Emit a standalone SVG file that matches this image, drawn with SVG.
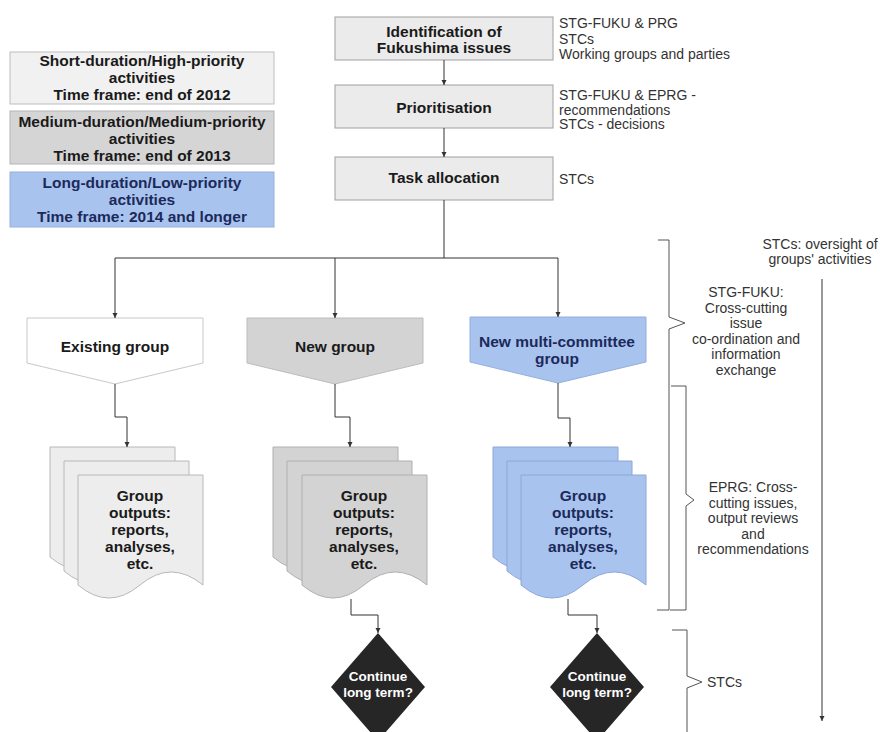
<svg xmlns="http://www.w3.org/2000/svg" width="880" height="732" viewBox="0 0 880 732">
<defs>
<marker id="ah" markerWidth="6" markerHeight="6" refX="5" refY="3" orient="auto" markerUnits="userSpaceOnUse">
<path d="M0,0.5 L5,3 L0,5.5 Z" fill="#333"/>
</marker>
<path id="doc" d="M0,0 H125 V110 Q93,84 62,110 Q31,136 0,110 Z"/>
<path id="pent" d="M-88,0 H88 V45 L0,66 L-88,45 Z"/>
<path id="dia" d="M0,0 L47,54 L0,108 L-47,54 Z"/>
</defs>
<style>
text{font-family:"Liberation Sans",Arial,sans-serif;}
.b{font-weight:bold;font-size:15.5px;fill:#1a1a1a;text-anchor:middle;}
.nv{fill:#1c2a5a;}
.s{font-size:14px;fill:#333;}
.c{text-anchor:middle;}
.w{font-weight:bold;font-size:13.5px;fill:#fff;text-anchor:middle;}
.box{fill:#ebebeb;stroke:#a0a0a0;stroke-width:1;}
.ln{fill:none;stroke:#333;stroke-width:1;}
.br{fill:none;stroke:#555;stroke-width:1;}
.dw{fill:#ededed;stroke:#b8b8b8;}
.dg{fill:#d3d3d3;stroke:#b0b0b0;}
.db{fill:#a9c3ef;stroke:#8ea8d8;}
</style>
<rect width="880" height="732" fill="#ffffff"/>

<g id="legend-short">
<rect x="10" y="52" width="264" height="52" fill="#f1f1f1" stroke="#bdbdbd"/>
<text class="b" x="142" y="66">Short-duration/High-priority</text>
<text class="b" x="142" y="83">activities</text>
<text class="b" x="142" y="100">Time frame: end of 2012</text>
</g>
<g id="legend-medium">
<rect x="10" y="111" width="264" height="53" fill="#d5d5d5" stroke="#b5b5b5"/>
<text class="b" x="142" y="127">Medium-duration/Medium-priority</text>
<text class="b" x="142" y="144">activities</text>
<text class="b" x="142" y="161">Time frame: end of 2013</text>
</g>
<g id="legend-long">
<rect x="10" y="172" width="264" height="55" fill="#a9c3ef" stroke="#96b0dc"/>
<text class="b nv" x="142" y="188">Long-duration/Low-priority</text>
<text class="b nv" x="142" y="205">activities</text>
<text class="b nv" x="142" y="222">Time frame: 2014 and longer</text>
</g>

<g id="identification">
<rect class="box" x="335" y="17" width="218" height="43"/>
<text class="b" x="444" y="37">Identification of</text>
<text class="b" x="444" y="53">Fukushima issues</text>
<text class="s" x="559" y="28">STG-FUKU &amp; PRG</text>
<text class="s" x="559" y="43.5">STCs</text>
<text class="s" x="559" y="59">Working groups and parties</text>
</g>
<g id="prioritisation">
<rect class="box" x="335" y="85" width="218" height="43"/>
<text class="b" x="444" y="113">Prioritisation</text>
<text class="s" x="559" y="100">STG-FUKU &amp; EPRG -</text>
<text class="s" x="559" y="114.5">recommendations</text>
<text class="s" x="559" y="129">STCs - decisions</text>
</g>
<g id="task-allocation">
<rect class="box" x="335" y="157" width="218" height="43"/>
<text class="b" x="444" y="183">Task allocation</text>
<text class="s" x="559" y="184">STCs</text>
</g>

<g id="existing-group">
<use href="#pent" x="115" y="318" fill="#ffffff" stroke="#c8c8c8"/>
<text class="b" x="115" y="352">Existing group</text>
</g>
<g id="new-group">
<use href="#pent" x="335" y="318" fill="#d3d3d3" stroke="#bcbcbc"/>
<text class="b" x="335" y="352">New group</text>
</g>
<g id="new-multi-committee-group">
<use href="#pent" x="558" y="317" fill="#a9c3ef" stroke="#93aede"/>
<text class="b nv" x="557" y="347">New multi-committee</text>
<text class="b nv" x="557" y="364">group</text>
</g>

<g id="outputs-existing">
<use href="#doc" x="50" y="447" class="dw"/>
<use href="#doc" x="64" y="461" class="dw"/>
<use href="#doc" x="78" y="475" class="dw"/>
<text class="b" x="140" y="501">Group</text>
<text class="b" x="140" y="518">outputs:</text>
<text class="b" x="140" y="535">reports,</text>
<text class="b" x="140" y="552">analyses,</text>
<text class="b" x="140" y="569">etc.</text>
</g>
<g id="outputs-new">
<use href="#doc" x="273" y="447" class="dg"/>
<use href="#doc" x="287" y="461" class="dg"/>
<use href="#doc" x="302" y="475" class="dg"/>
<text class="b" x="364" y="501">Group</text>
<text class="b" x="364" y="518">outputs:</text>
<text class="b" x="364" y="535">reports,</text>
<text class="b" x="364" y="552">analyses,</text>
<text class="b" x="364" y="569">etc.</text>
</g>
<g id="outputs-multi">
<use href="#doc" x="493" y="447" class="db"/>
<use href="#doc" x="507" y="461" class="db"/>
<use href="#doc" x="521" y="475" class="db"/>
<text class="b nv" x="583" y="501">Group</text>
<text class="b nv" x="583" y="518">outputs:</text>
<text class="b nv" x="583" y="535">reports,</text>
<text class="b nv" x="583" y="552">analyses,</text>
<text class="b nv" x="583" y="569">etc.</text>
</g>

<g id="continue-new">
<use href="#dia" x="378" y="633" fill="#262626"/>
<text class="w" x="378" y="681">Continue</text>
<text class="w" x="378" y="697">long term?</text>
</g>
<g id="continue-multi">
<use href="#dia" x="597" y="633" fill="#262626"/>
<text class="w" x="597" y="681">Continue</text>
<text class="w" x="597" y="697">long term?</text>
</g>

<g id="connectors">
<path class="ln" d="M444,60 V85" marker-end="url(#ah)"/>
<path class="ln" d="M444,128 V157" marker-end="url(#ah)"/>
<path class="ln" d="M444,200 V258"/>
<path class="ln" d="M115,258 H558"/>
<path class="ln" d="M115,258 V318" marker-end="url(#ah)"/>
<path class="ln" d="M335,258 V318" marker-end="url(#ah)"/>
<path class="ln" d="M558,258 V317" marker-end="url(#ah)"/>
<path class="ln" d="M115,384 V417 H127 V447" marker-end="url(#ah)"/>
<path class="ln" d="M335,384 V417 H350 V447" marker-end="url(#ah)"/>
<path class="ln" d="M558,383 V418 H570 V447" marker-end="url(#ah)"/>
<path class="ln" d="M351,599 V615 H378 V633" marker-end="url(#ah)"/>
<path class="ln" d="M568,599 V615 H597 V633" marker-end="url(#ah)"/>
<path class="ln" d="M822,279 V721" marker-end="url(#ah)"/>
</g>

<g id="brackets">
<path class="br" d="M658,240 H669 V317 L685,323 L669,329 V610 H657"/>
<path class="br" d="M671,386 H686 V494 L694,500 L686,506 V610 H670"/>
<path class="br" d="M672,630 H687 V676 L702,682 L687,688 V732"/>
</g>

<g id="annotations">
<text class="s c" x="820" y="249">STCs: oversight of</text>
<text class="s c" x="820" y="264">groups' activities</text>
<text class="s c" x="746" y="297">STG-FUKU:</text>
<text class="s c" x="746" y="312.5">Cross-cutting</text>
<text class="s c" x="746" y="328">issue</text>
<text class="s c" x="746" y="343.5">co-ordination and</text>
<text class="s c" x="746" y="359">information</text>
<text class="s c" x="746" y="374.5">exchange</text>
<text class="s c" x="753" y="492">EPRG: Cross-</text>
<text class="s c" x="753" y="507.5">cutting issues,</text>
<text class="s c" x="753" y="523">output reviews</text>
<text class="s c" x="753" y="538.5">and</text>
<text class="s c" x="753" y="554">recommendations</text>
<text class="s" x="707" y="687">STCs</text>
</g>
</svg>
